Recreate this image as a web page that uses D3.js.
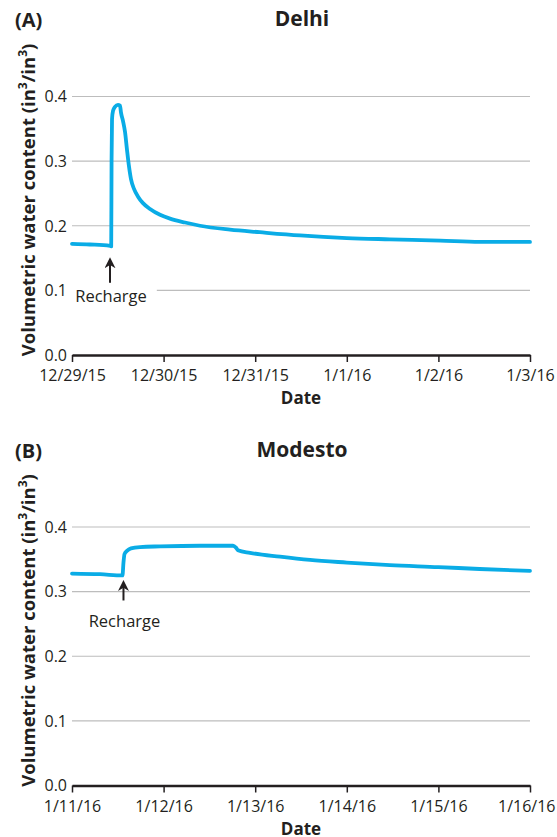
<!DOCTYPE html>
<html>
<head>
<meta charset="utf-8">
<script src="https://cdn.jsdelivr.net/npm/d3@7"></script>
<style>
  body { margin: 0; background: #fff; }
  svg text { font-family: "Open Sans", "Noto Sans", sans-serif; fill: #231f20; }
</style>
</head>
<body>
<script>
// days since the first tick, and volumetric water content
let delhiDays = [0, 0.196, 0.415, 0.428, 0.432, 0.437, 0.448, 0.469, 0.502, 0.524, 0.535, 0.557, 0.579, 0.600, 0.622, 0.644, 0.677, 0.721, 0.775, 0.852, 0.961, 1.07, 1.234, 1.397, 1.725, 2.05, 2.49, 3.0, 3.47, 4.02, 4.45, 5.0];
let delhiVwc = [0.172, 0.171, 0.169, 0.168, 0.30, 0.365, 0.378, 0.384, 0.387, 0.386, 0.375, 0.362, 0.345, 0.318, 0.292, 0.272, 0.257, 0.245, 0.235, 0.226, 0.217, 0.211, 0.205, 0.200, 0.194, 0.190, 0.185, 0.181, 0.179, 0.177, 0.175, 0.175];

let modestoDays = [0, 0.306, 0.551, 0.562, 0.573, 0.600, 0.644, 0.742, 0.961, 1.397, 1.758, 1.790, 1.812, 1.943, 2.271, 2.598, 3.0, 3.47, 4.0, 4.45, 5.0];
let modestoVwc = [0.328, 0.327, 0.325, 0.345, 0.358, 0.363, 0.367, 0.369, 0.370, 0.371, 0.371, 0.368, 0.364, 0.360, 0.354, 0.349, 0.345, 0.341, 0.338, 0.335, 0.332];

let yTicks = [0, 0.1, 0.2, 0.3, 0.4];
let panels = [
  { tag: "(A)", title: "Delhi", start: new Date(2015, 11, 29), days: delhiDays, vwc: delhiVwc, rechargeDay: 0.415,
    top: 0, arrow: [12, 37, 56] },
  { tag: "(B)", title: "Modesto", start: new Date(2016, 0, 11), days: modestoDays, vwc: modestoVwc, rechargeDay: 0.562,
    top: 430.5, arrow: [5, 25, 52] }
];

let w = 557, h = 837;
let left = 72, right = 530;
let y0 = 355, y1 = 96.5;
let lineColor = "#0aace6";
let fmt = d3.timeFormat("%-m/%-d/%y");

let svg = d3.select("body").append("svg")
  .attr("width", w)
  .attr("height", h);

svg.append("defs").append("marker")
  .attr("id", "arrow")
  .attr("viewBox", "0 0 10 10")
  .attr("refX", 5).attr("refY", 5)
  .attr("markerWidth", 5.5).attr("markerHeight", 5.5)
  .attr("orient", "auto-start-reverse")
  .append("path")
  .attr("d", "M0,0 L10,5 L0,10 L3,5 Z")
  .attr("fill", "#231f20");

panels.forEach((p) => {
  let g = svg.append("g").attr("transform", "translate(0," + p.top + ")");

  let end = d3.timeDay.offset(p.start, 5);
  let x = d3.scaleTime().domain([p.start, end]).range([left, right]);
  let y = d3.scaleLinear().domain([0, 0.4]).range([y0, y1]);
  let toDate = (d) => new Date(p.start.getTime() + d * 864e5);

  // grid
  g.selectAll(".grid")
    .data(yTicks.slice(1))
    .enter().append("line")
    .attr("x1", left).attr("x2", right)
    .attr("y1", (d) => y(d)).attr("y2", (d) => y(d))
    .attr("stroke", "#bdbdbd")
    .attr("stroke-width", 1.2);

  // y tick labels
  g.selectAll(".ylab")
    .data(yTicks)
    .enter().append("text")
    .attr("x", left - 5)
    .attr("y", (d) => y(d))
    .attr("dy", "0.36em")
    .attr("text-anchor", "end")
    .style("font-size", "16px")
    .text((d) => d3.format(".1f")(d));

  // x axis
  let xAxis = d3.axisBottom(x)
    .ticks(d3.timeDay.every(1))
    .tickFormat(fmt)
    .tickSize(7)
    .tickSizeOuter(0)
    .tickPadding(8);

  let ax = g.append("g")
    .attr("transform", "translate(0," + y0 + ")")
    .call(xAxis);
  ax.select(".domain").attr("stroke", "#231f20").attr("stroke-width", 2.4);
  ax.selectAll(".tick line").attr("stroke", "#231f20").attr("stroke-width", 1.5);
  ax.selectAll(".tick text")
    .style("font-size", "16px")
    .attr("fill", "#231f20")
    .style("font-family", "'Open Sans', sans-serif");
  // keep the last label inside the page, like the original
  ax.selectAll(".tick text").each(function () {
    let b = this.getBBox();
    let tx = x(d3.select(this.parentNode).datum());
    let over = tx + b.x + b.width - (w - 2);
    if (over > 0) d3.select(this).attr("dx", -over);
  });

  // recharge annotation
  let i = p.days.indexOf(p.rechargeDay);
  let rx = x(toDate(p.rechargeDay));
  let ry = y(Math.min(p.vwc[i], p.vwc[i - 1]));
  let label = g.append("text")
    .attr("x", rx + 1)
    .attr("y", ry + p.arrow[2])
    .attr("text-anchor", "middle")
    .style("font-size", "16.5px")
    .text("Recharge");
  let bb = label.node().getBBox();
  g.insert("rect", "text")
    .attr("x", bb.x - 4).attr("y", bb.y)
    .attr("width", bb.width + 14).attr("height", bb.height)
    .attr("fill", "#fff");
  g.append("line")
    .attr("x1", rx).attr("x2", rx)
    .attr("y1", ry + p.arrow[1]).attr("y2", ry + p.arrow[0] + 5)
    .attr("stroke", "#231f20")
    .attr("stroke-width", 2)
    .attr("marker-end", "url(#arrow)");

  // data line
  let line = d3.line()
    .x((d, i) => x(toDate(d)))
    .y((d, i) => y(p.vwc[i]))
    .curve(d3.curveMonotoneX);
  g.append("path")
    .datum(p.days)
    .attr("d", line)
    .attr("fill", "none")
    .attr("stroke", lineColor)
    .attr("stroke-width", 3.8)
    .attr("stroke-linejoin", "round")
    .attr("stroke-linecap", "round");

  // titles
  g.append("text")
    .attr("x", 15).attr("y", 27)
    .style("font-size", "20px").style("font-weight", "bold")
    .text(p.tag);
  g.append("text")
    .attr("x", (left + right) / 2 + 1).attr("y", 26)
    .attr("text-anchor", "middle")
    .style("font-size", "21px").style("font-weight", "bold")
    .text(p.title);
  g.append("text")
    .attr("x", (left + right) / 2).attr("y", y0 + 49)
    .attr("text-anchor", "middle")
    .style("font-size", "17px").style("font-weight", "bold")
    .text("Date");

  let yl = g.append("text")
    .attr("transform", "translate(35," + (y0 - 155) + ") rotate(-90)")
    .attr("text-anchor", "middle")
    .style("font-size", "18.5px").style("font-weight", "bold");
  yl.append("tspan").text("Volumetric water content (in");
  yl.append("tspan").attr("baseline-shift", "super").style("font-size", "12px").text("3");
  yl.append("tspan").text("/in");
  yl.append("tspan").attr("baseline-shift", "super").style("font-size", "12px").text("3");
  yl.append("tspan").text(")");
});
</script>
</body>
</html>
